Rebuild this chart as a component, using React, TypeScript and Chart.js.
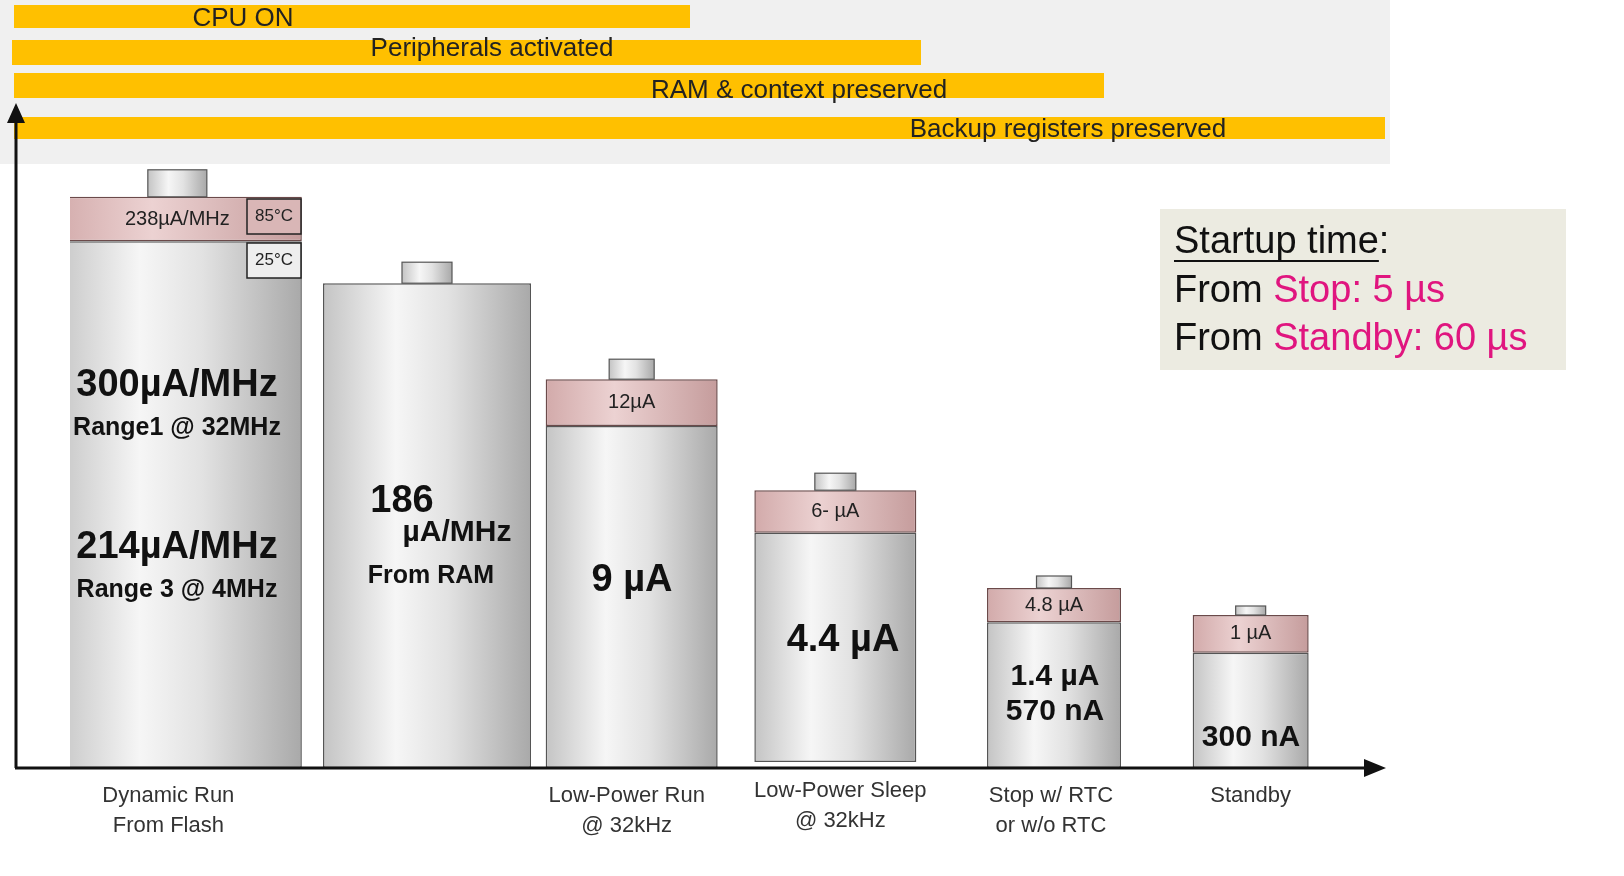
import { useEffect, useRef } from "react";
import { Chart, registerables } from "chart.js";

Chart.register(...registerables);

// categories and values (y in % of chart height)
const categories = ["Dynamic Run", "From RAM", "Low-Power Run", "Low-Power Sleep", "Stop", "Standby"];
const axisLabels = [["Dynamic Run", "From Flash"], [], ["Low-Power Run", "@ 32kHz"], ["Low-Power Sleep", "@ 32kHz"], ["Stop w/ RTC", "or w/o RTC"], ["Standby"]];
const bodyTop = [87.8, 80.8, 57, 39.2, 24.3, 19.2];
const bodyBase = [0, 0, 0, 1, 0, 0];
const bandTop = [95.2, null, 64.8, 46.3, 30, 25.5];
const bandLabels = ["238µA/MHz", "", "12µA", "6- µA", "4.8 µA", "1 µA"];
const modeBars = ["CPU ON", "Peripherals activated", "RAM & context preserved", "Backup registers preserved"];

// style
const barWidths = [249, 208, 172, 162, 134, 116];
const barShift = [0, 35, 25, 14, 18, 0];
const labelShift = [-9, 0, 20, 19, 15, 0];
const capSizes = [[59, 27], [50, 21], [45, 20], [41, 17], [35, 12], [30, 9]];
const FONT = "'Liberation Sans', Arial, sans-serif";

function greyGrad(ctx: CanvasRenderingContext2D, x0: number, x1: number) {
  const g = ctx.createLinearGradient(x0, 0, x1, 0);
  g.addColorStop(0, "#c4c4c4");
  g.addColorStop(0.35, "#f6f6f6");
  g.addColorStop(0.6, "#e2e2e2");
  g.addColorStop(1, "#a9a9a9");
  return g;
}
function pinkGrad(ctx: CanvasRenderingContext2D, x0: number, x1: number) {
  const g = ctx.createLinearGradient(x0, 0, x1, 0);
  g.addColorStop(0, "#d2aaaa");
  g.addColorStop(0.4, "#ecd2d2");
  g.addColorStop(1, "#c59c9c");
  return g;
}

const decor = {
  id: "decor",
  afterDatasetsUpdate(chart: any) {
    const ctx = chart.ctx;
    const xs = chart.scales.x;
    [0, 1].forEach((di) => {
      chart.getDatasetMeta(di).data.forEach((el: any, i: number) => {
        el.width = barWidths[i];
        el.x = xs.getPixelForValue(i) + barShift[i];
        const x0 = el.x - barWidths[i] / 2, x1 = el.x + barWidths[i] / 2;
        el.options = { ...el.options, backgroundColor: di === 0 ? greyGrad(ctx, x0, x1) : pinkGrad(ctx, x0, x1) };
      });
    });
  },
  beforeDraw(chart: any) {
    const ctx = chart.ctx;
    ctx.save();
    ctx.fillStyle = "#ffffff";
    ctx.fillRect(0, 0, chart.width, chart.height);
    ctx.fillStyle = "#f0f0f0";
    ctx.fillRect(0, 0, 1390, 164);
    const rows = [[14, 690, 5, 23, 243, 19], [12, 921, 40, 25, 492, 49], [14, 1104, 73, 25, 799, 91], [14, 1385, 117, 22, 1068, 130]];
    ctx.font = `26px ${FONT}`;
    ctx.textAlign = "center";
    ctx.textBaseline = "middle";
    rows.forEach((r, i) => {
      ctx.fillStyle = "#ffc000";
      ctx.fillRect(r[0], r[2], r[1] - r[0], r[3]);
      ctx.fillStyle = "#222";
      ctx.fillText(modeBars[i], r[4], r[5]);
    });
    // startup box
    ctx.fillStyle = "#ecebe1";
    ctx.fillRect(1160, 209, 406, 161);
    ctx.textAlign = "left";
    ctx.font = `38px ${FONT}`;
    ctx.fillStyle = "#111";
    ctx.fillText("Startup time", 1174, 243);
    const w = ctx.measureText("Startup time").width;
    ctx.fillRect(1174, 260, w, 2);
    ctx.fillText(":", 1174 + w, 243);
    const line = (y: number, a: string, b: string) => {
      ctx.fillStyle = "#111";
      ctx.fillText(a, 1174, y);
      ctx.fillStyle = "#e0157f";
      ctx.fillText(b, 1174 + ctx.measureText(a).width, y);
    };
    line(292, "From ", "Stop: 5 µs");
    line(340, "From ", "Standby: 60 µs");
    ctx.restore();
  },
  afterDatasetsDraw(chart: any) {
    const ctx = chart.ctx;
    const y = chart.scales.y;
    ctx.save();
    const body = chart.getDatasetMeta(0).data;
    body.forEach((el: any, i: number) => {
      const top = y.getPixelForValue(bandTop[i] ?? bodyTop[i]);
      const [cw, ch] = capSizes[i];
      ctx.fillStyle = greyGrad(ctx, el.x - cw / 2, el.x + cw / 2);
      ctx.fillRect(el.x - cw / 2, top - ch, cw, ch);
      ctx.strokeStyle = "#555";
      ctx.lineWidth = 1.2;
      ctx.strokeRect(el.x - cw / 2, top - ch, cw, ch);
      if (bandTop[i] != null) {
        ctx.font = `20px ${FONT}`;
        ctx.fillStyle = "#222";
        ctx.textAlign = "center";
        ctx.textBaseline = "middle";
        const mid = (top + y.getPixelForValue(bodyTop[i])) / 2;
        ctx.fillText(bandLabels[i], el.x, mid);
      }
    });
    // temperature boxes
    ctx.font = `17px ${FONT}`;
    ctx.textAlign = "center";
    ctx.textBaseline = "middle";
    [[199, "85°C"], [243, "25°C"]].forEach(([ty, t]: any) => {
      ctx.fillStyle = ty === 199 ? "#d9b6b6" : "#eeeeee";
      ctx.fillRect(247, ty, 54, 35);
      ctx.strokeStyle = "#222";
      ctx.lineWidth = 1.5;
      ctx.strokeRect(247, ty, 54, 35);
      ctx.fillStyle = "#222";
      ctx.fillText(t, 274, ty + 17);
    });
    // bar texts
    const txt = (s: string, x: number, ty: number, size: number) => {
      ctx.font = `bold ${size}px ${FONT}`;
      ctx.fillStyle = "#111";
      ctx.fillText(s, x, ty);
    };
    txt("300µA/MHz", 177, 386, 38);
    txt("Range1 @ 32MHz", 177, 428, 25);
    txt("214µA/MHz", 177, 548, 38);
    txt("Range 3 @ 4MHz", 177, 590, 25);
    txt("186", 402, 502, 38);
    txt("µA/MHz", 457, 533, 30);
    txt("From RAM", 431, 576, 25);
    txt("9 µA", 632, 581, 38);
    txt("4.4 µA", 843, 641, 38);
    txt("1.4 µA", 1055, 677, 30);
    txt("570 nA", 1055, 712, 30);
    txt("300 nA", 1251, 738, 30);
    // axes
    ctx.strokeStyle = "#111";
    ctx.fillStyle = "#111";
    ctx.lineWidth = 3;
    ctx.beginPath();
    ctx.moveTo(15, 768); ctx.lineTo(1368, 768);
    ctx.moveTo(16, 768); ctx.lineTo(16, 118);
    ctx.stroke();
    ctx.beginPath();
    ctx.moveTo(1386, 768); ctx.lineTo(1364, 759); ctx.lineTo(1364, 777); ctx.closePath();
    ctx.moveTo(16, 103); ctx.lineTo(7, 123); ctx.lineTo(25, 123); ctx.closePath();
    ctx.fill();
    // category labels
    ctx.font = `22px ${FONT}`;
    ctx.fillStyle = "#333";
    const xs = chart.scales.x;
    axisLabels.forEach((lines, i) => {
      lines.forEach((l, k) => ctx.fillText(l, xs.getPixelForValue(i) + labelShift[i], 796 + k * 30 - (i === 3 ? 5 : 0)));
    });
    ctx.restore();
  },
};

export default function App() {
  const ref = useRef<HTMLCanvasElement>(null);
  useEffect(() => {
    if (!ref.current) return;
    const chart = new Chart(ref.current, {
      type: "bar",
      data: {
        labels: categories,
        datasets: [
          {
            data: bodyTop.map((t, i) => [bodyBase[i], t]) as any,
            borderColor: "#555",
            borderWidth: 1.5,
            borderSkipped: false,
            grouped: false,
          },
          {
            data: bandTop.map((t, i) => (t == null ? null : [bodyTop[i], t])) as any,
            borderColor: "#6b4a4a",
            borderWidth: 1.5,
            borderSkipped: false,
            grouped: false,
          },
        ],
      },
      options: {
        animation: false,
        responsive: false,
        layout: { padding: { top: 168, bottom: 108, left: 70, right: 266 } },
        scales: {
          x: { display: false, offset: true },
          y: { display: false, min: 0, max: 100 },
        },
        plugins: { legend: { display: false }, tooltip: { enabled: false } },
      },
      plugins: [decor],
    });
    return () => chart.destroy();
  }, []);
  return (
    <div style={{ position: "fixed", left: 0, top: 0, width: 1624, height: 876 }}>
      <canvas ref={ref} width={1624} height={876} style={{ width: 1624, height: 876 }} />
    </div>
  );
}
